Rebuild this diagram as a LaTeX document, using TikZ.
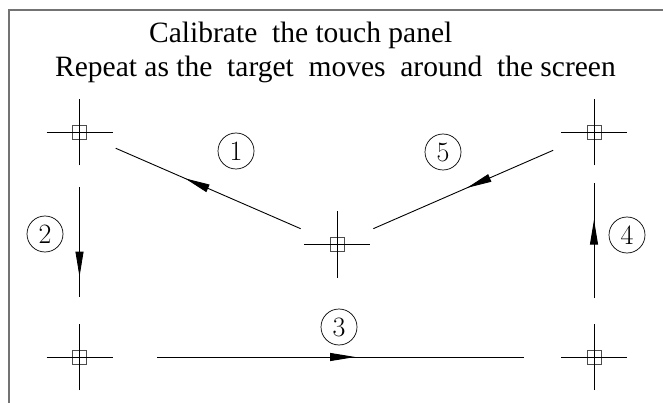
\documentclass[tikz,border=0pt]{standalone}
\usepackage{fontspec}
\newfontfamily\titlefont{Liberation Serif}
\usetikzlibrary{arrows.meta, calc, decorations.markings}

\begin{document}
\begin{tikzpicture}[
    x=1pt, y=-1pt,
    frame/.style={draw=black!55, line width=1.4pt},
    title/.style={font=\titlefont\fontsize{29.5}{30}\selectfont, inner sep=0pt, anchor=base west},
    target/.style={draw=black!70, line width=1pt, rectangle, minimum size=14pt, inner sep=0pt},
    arm/.style={line width=0.8pt},
    stepno/.style={draw, circle, line width=0.7pt, minimum size=36pt, inner sep=0pt, font=\fontsize{28}{28}\selectfont},
    flow/.style={line width=0.9pt, postaction={decorate}},
    tipat/.style={decoration={markings, mark=at position #1 with {\arrow{Triangle[length=25pt, width=8pt]}}}},
]
\useasboundingbox (0,0) rectangle (663,403);
\draw[frame] (9,403) -- (9,10) -- (663,10);
% title
\node[title] (cal) at (149,43) {Calibrate~ the touch panel};
\node[title] (rep) at (55,76.7) {Repeat as the~ target~ moves~ around~ the screen};
% targets
\node[target] (tl) at (79.5,132.5) {};
\node[target] (tr) at (594,132.5) {};
\node[target] (c) at (337,244.5) {};
\node[target] (bl) at (79.5,357) {};
\node[target] (br) at (594,357) {};
\foreach \t in {tl,tr,c,bl,br} {
  \draw[arm] ([xshift=-33pt]\t.center) -- ([xshift=33pt]\t.center);
  \draw[arm] ([yshift=-33pt]\t.center) -- ([yshift=33pt]\t.center);
}
% moves
\draw[flow, tipat=0.625] ($(c)!39.7pt!(tl)$) -- ($(tl)!39.5pt!(c)$);
\draw[flow, tipat=0.815] ($(tl)!54.5pt!(bl)$) -- ($(bl)!60pt!(tl)$);
\draw[flow, tipat=0.54] ($(bl)!77.5pt!(br)$) -- ($(br)!70pt!(bl)$);
\draw[flow, tipat=0.684] ($(br)!59pt!(tr)$) -- ($(tr)!51pt!(br)$);
\draw[flow, tipat=0.48] ($(tr)!44.6pt!(c)$) -- ($(c)!39.7pt!(tr)$);
% step numbers
\node[stepno] (n1) at (236,151) {1};
\node[stepno] (n2) at (45,234) {2};
\node[stepno] (n3) at (339,327) {3};
\node[stepno] (n4) at (627,235) {4};
\node[stepno] (n5) at (443,152) {5};
\end{tikzpicture}
\end{document}
